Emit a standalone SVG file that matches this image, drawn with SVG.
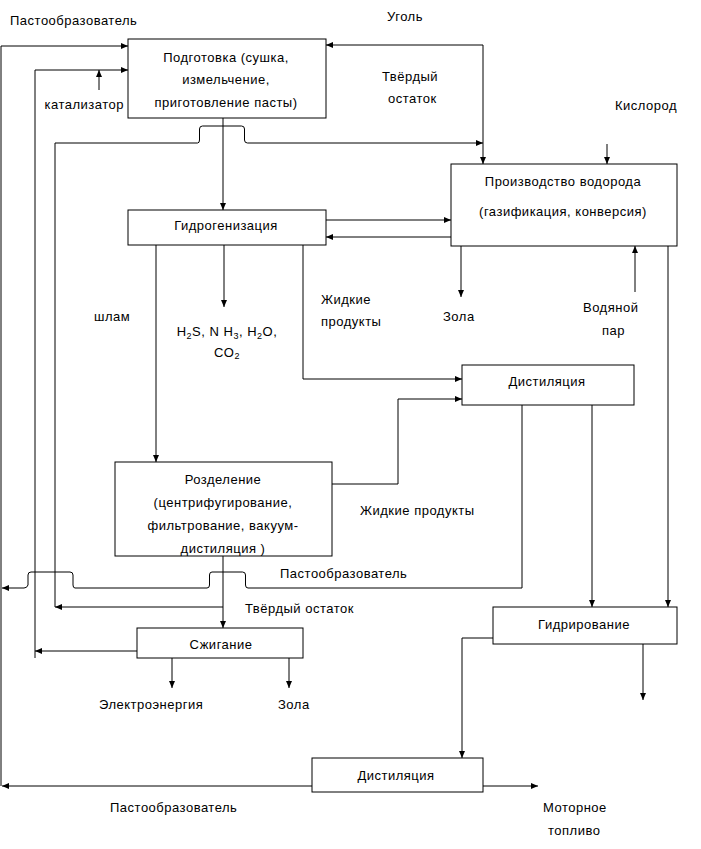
<svg xmlns="http://www.w3.org/2000/svg" width="701" height="849" viewBox="0 0 701 849">
<style>
text{font-family:"Liberation Sans",Arial,sans-serif;font-size:13px;fill:#000;letter-spacing:0.5px}
.m{text-anchor:middle}
.e{text-anchor:end}
.b{fill:#fff;stroke:#000;stroke-width:1}
.c path{fill:none;stroke:#000;stroke-width:1}
.s{font-size:9px}
</style>
<defs>
<marker id="a" viewBox="0 0 7 6" refX="7" refY="3" markerWidth="7" markerHeight="6" markerUnits="userSpaceOnUse" orient="auto-start-reverse"><path d="M0,0 L7,3 L0,6 z" fill="#000"/></marker>
</defs>
<rect width="701" height="849" fill="#fff"/>
<g class="c" id="connectors">
<path d="M1,786 V46 H128" marker-end="url(#a)"/>
<path d="M312,786 H2" marker-end="url(#a)"/>
<path d="M35,658 V70 H128" marker-end="url(#a)"/>
<path d="M99,90 V70" marker-end="url(#a)"/>
<path d="M326,45 H483 V164" marker-start="url(#a)" marker-end="url(#a)"/>
<path d="M55,607 V143 H197.5 Q199.5,143 199.5,140 V129 Q199.5,126 202.5,126 H241.5 Q244.5,126 244.5,129 V140 Q244.5,143 247.5,143 H483" marker-end="url(#a)"/>
<path d="M223,118 V210" marker-end="url(#a)"/>
<path d="M326,220 H451" marker-end="url(#a)"/>
<path d="M451,237 H326" marker-end="url(#a)"/>
<path d="M607,144 V164" marker-end="url(#a)"/>
<path d="M224,245 V307" marker-end="url(#a)"/>
<path d="M156,245 V462" marker-end="url(#a)"/>
<path d="M303,245 V379 H462" marker-end="url(#a)"/>
<path d="M461,246 V297" marker-end="url(#a)"/>
<path d="M635,292 V246" marker-end="url(#a)"/>
<path d="M332,484 H398 V399 H462" marker-end="url(#a)"/>
<path d="M522,405 V588 H248 Q245.5,588 245.5,585 V575 Q245.5,572 242.5,572 H212 Q209.5,572 209.5,575 V585 Q209.5,588 207,588 H75 Q73,588 73,585 V575 Q73,572 70,572 H31 Q28,572 28,575 V585 Q27,588 24,588 H2" marker-end="url(#a)"/>
<path d="M592,405 V607" marker-end="url(#a)"/>
<path d="M668,246 V607" marker-end="url(#a)"/>
<path d="M223,556 V628" marker-end="url(#a)"/>
<path d="M223,607 H55" marker-end="url(#a)"/>
<path d="M137,651 H35" marker-end="url(#a)"/>
<path d="M172,658 V688" marker-end="url(#a)"/>
<path d="M289,658 V688" marker-end="url(#a)"/>
<path d="M493,638 H462 V758" marker-end="url(#a)"/>
<path d="M643,644 V700" marker-end="url(#a)"/>
<path d="M483,786 H538" marker-end="url(#a)"/>
</g>
<g id="podgotovka">
<rect class="b" x="128" y="39" width="198" height="79"/>
<text class="m" x="226" y="62">Подготовка (сушка,</text>
<text class="m" x="226" y="84">измельчение,</text>
<text class="m" x="226" y="107">приготовление пасты)</text>
</g>
<g id="vodorod">
<rect class="b" x="451" y="164" width="226" height="82"/>
<text class="m" x="563" y="186">Производство водорода</text>
<text class="m" x="563" y="216">(газификация, конверсия)</text>
</g>
<g id="gidrogenizatsiya">
<rect class="b" x="128" y="210" width="198" height="35"/>
<text class="m" x="226" y="230">Гидрогенизация</text>
</g>
<g id="distillyatsiya1">
<rect class="b" x="462" y="365" width="172" height="40"/>
<text class="m" x="547" y="386">Дистиляция</text>
</g>
<g id="razdelenie">
<rect class="b" x="115" y="462" width="217" height="94"/>
<text class="m" x="223" y="484">Розделение</text>
<text class="m" x="223" y="507">(центрифугирование,</text>
<text class="m" x="223" y="530">фильтрование, вакуум-</text>
<text class="m" x="223" y="553">дистиляция )</text>
</g>
<g id="gidrirovanie">
<rect class="b" x="493" y="607" width="184" height="37"/>
<text class="m" x="584" y="629">Гидрирование</text>
</g>
<g id="szhiganie">
<rect class="b" x="137" y="628" width="166" height="30"/>
<text class="m" x="221" y="649">Сжигание</text>
</g>
<g id="distillyatsiya2">
<rect class="b" x="312" y="758" width="171" height="34"/>
<text class="m" x="396" y="780">Дистиляция</text>
</g>
<g id="labels">
<text x="10" y="25">Пастообразователь</text>
<text class="e" x="124" y="109">катализатор</text>
<text x="387" y="21">Уголь</text>
<text x="382" y="81">Твёрдый</text>
<text x="388" y="103">остаток</text>
<text x="615" y="110">Кислород</text>
<text x="94" y="321">шлам</text>
<text class="m" x="227" y="336">H<tspan class="s" dy="3">2</tspan><tspan dy="-3">S,  N H</tspan><tspan class="s" dy="3">3</tspan><tspan dy="-3">, H</tspan><tspan class="s" dy="3">2</tspan><tspan dy="-3">O,</tspan></text>
<text class="m" x="227" y="357">CO<tspan class="s" dy="2">2</tspan></text>
<text x="321" y="304">Жидкие</text>
<text x="321" y="326">продукты</text>
<text x="443" y="321">Зола</text>
<text x="583" y="312">Водяной</text>
<text x="602" y="335">пар</text>
<text x="360" y="515">Жидкие продукты</text>
<text x="280" y="578">Пастообразователь</text>
<text x="245" y="613">Твёрдый остаток</text>
<text x="99" y="709">Электроэнергия</text>
<text x="278" y="709">Зола</text>
<text x="110" y="812">Пастообразователь</text>
<text x="543" y="812">Моторное</text>
<text x="548" y="835">топливо</text>
</g>
</svg>
